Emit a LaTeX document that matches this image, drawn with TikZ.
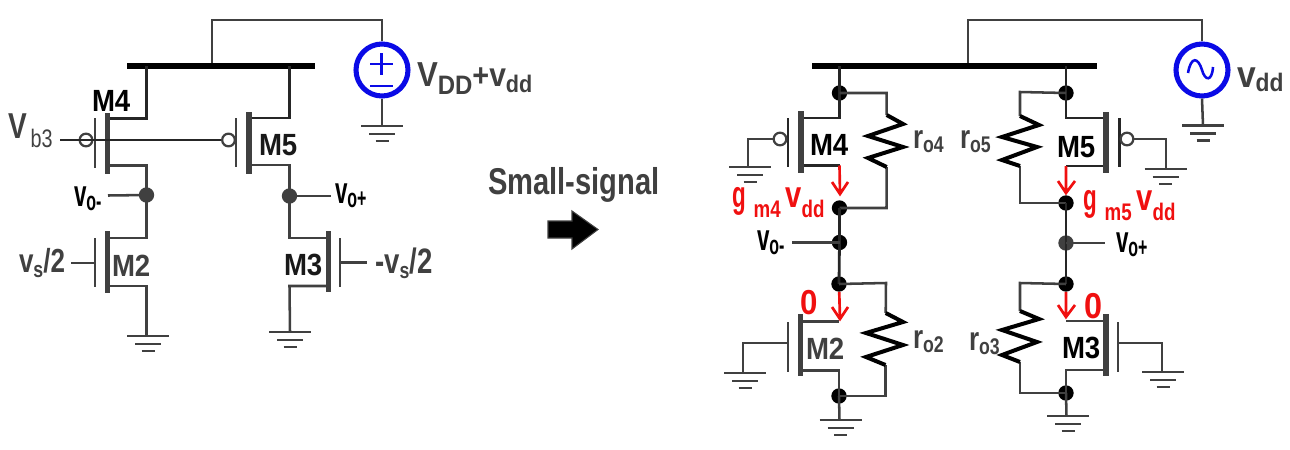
\documentclass[tikz,border=0pt]{standalone}
\usepackage{fontspec}
\setmainfont{Liberation Sans}[FakeStretch=0.9]
\newfontfamily\nar{Liberation Sans}[FakeStretch=0.78]
\newfontfamily\nnar{Liberation Sans}[FakeStretch=0.6]
\definecolor{ink}{HTML}{404040}
\definecolor{srcblue}{HTML}{0A0AE6}
\definecolor{sigred}{HTML}{F01010}
\newcommand{\fs}[1]{\fontsize{#1}{#1}\selectfont}
\newcommand{\dn}[3]{{\fs{#1}\raisebox{-#2pt}{#3}}}
\newcommand{\gndsym}[3]{%
  \coordinate (#1) at (#2,#3);
  \draw[wire] ($(#1)+(-21,0)$) -- ($(#1)+(21,0)$);
  \draw[wire] ($(#1)+(-13,8)$) -- ($(#1)+(13,8)$);
  \draw[wire] ($(#1)+(-6.5,15)$) -- ($(#1)+(6.5,15)$);}
\usetikzlibrary{calc,arrows.meta}
\tikzset{
  wire/.style={draw=ink,line width=1.9pt},
  blackwire/.style={draw=black!85,line width=2.1pt},
  bus/.style={draw=black,line width=4.6pt},
  chan/.style={draw=ink,line width=4.2pt},
  gateln/.style={draw=ink,line width=1.9pt},
  zig/.style={draw=black,line width=3pt,miter limit=10},
  dot/.style={circle,fill=black,inner sep=0pt,minimum size=11.5pt,draw=none},
  dotg/.style={circle,fill=black!75,inner sep=0pt,minimum size=11.5pt,draw=none},
  bubble/.style={circle,draw=ink,line width=1.7pt,fill=white,inner sep=0pt,minimum size=9.5pt},
  bubbleo/.style={circle,draw=ink,line width=1.7pt,inner sep=0pt,minimum size=9.5pt},
  src/.style={circle,draw=srcblue,line width=3.8pt,fill=white,inner sep=0pt,minimum size=39pt},
  redw/.style={draw=sigred,line width=2pt},
  lab/.style={anchor=base west,inner sep=0pt,outer sep=0pt,font=\bfseries},
}
\begin{document}
\begin{tikzpicture}[x=0.75pt,y=-0.75pt]
\useasboundingbox (0,0) rectangle (1290,450);
% ===== LEFT =====
\coordinate (LbusL) at (127,66); \coordinate (LbusR) at (315,66);
\coordinate (LbusT) at (212,66); \coordinate (LtopA) at (212,20); \coordinate (LtopB) at (382,20);
\node[src] (Lsrc) at (382,70) {};
\draw[wire] (LbusT) -- (LtopA) -- (LtopB) -- (Lsrc.north);
\draw[bus] (LbusL) -- (LbusR);
\draw[srcblue,line width=1.7pt] (370,64) -- (393,64) (381.5,53) -- (381.5,75) (370,86) -- (393,86);
\gndsym{Lsg}{382}{126}
\draw[wire] (Lsrc.south) -- (Lsg);
% M4 left
\coordinate (La) at (146.5,66); \coordinate (Lb) at (146.5,118.5); \coordinate (Lc) at (108,118.5);
\coordinate (Ld) at (108,165.5); \coordinate (Le) at (146.5,165.5);
\node[dotg] (Lvm) at (146.5,195) {};
\coordinate (Lf) at (146.5,238); \coordinate (Lg) at (108,238);
\draw[blackwire] (La) -- (Lb) -- (Lc);
\draw[wire] (Ld) -- (Le) -- (Lvm.center) -- (Lf) -- (Lg);
\draw[chan] (107.5,113) -- (107.5,174);
\draw[gateln] (95,118) -- (95,168);
\coordinate (LvbS) at (60,140);
\node[bubbleo] (Lb4) at (86,140) {};
\node[bubble] (Lb5) at (228.5,140) {};
\draw[blackwire,line width=1.7pt] (LvbS) -- (Lb5.west);
% M5 left
\coordinate (Lh) at (289.5,66); \coordinate (Li) at (289.5,118); \coordinate (Lj) at (249,118);
\coordinate (Lk) at (249,165); \coordinate (Ll) at (289.5,165);
\node[dotg] (Lvp) at (289.5,196) {};
\coordinate (Lm) at (289.5,238); \coordinate (Ln) at (328,238);
\draw[blackwire] (Lh) -- (Li) -- (Lj);
\draw[wire] (Lk) -- (Ll) -- (Lvp.center) -- (Lm) -- (Ln);
\draw[chan] (249,112) -- (249,174);
\draw[gateln] (236,118) -- (236,167);
% M2 left
\draw[chan] (107.5,231) -- (107.5,293);
\draw[gateln] (95,238) -- (95,287);
\coordinate (Lg2a) at (71,263); \coordinate (Lg2b) at (95,263);
\draw[wire] (Lg2a) -- (Lg2b);
\coordinate (Lo) at (108,286); \coordinate (Lp) at (146.5,286);
\gndsym{Lg2}{148}{336}
\draw[wire] (Lo) -- (Lp) -- (146.5,336);
% M3 left
\draw[chan] (328.5,231) -- (328.5,292);
\draw[gateln] (340,238) -- (340,287);
\coordinate (Lg3a) at (340,262.5); \coordinate (Lg3b) at (367,262.5);
\draw[wire] (Lg3a) -- (Lg3b);
\coordinate (Lq) at (328,286); \coordinate (Lr) at (289.5,286);
\gndsym{Lg3}{290}{332}
\draw[wire] (Lq) -- (Lr) -- (Lg3);
% vo wires
\coordinate (Lvmw) at (108,195.5); \coordinate (Lvpw) at (331,196);
\draw[wire] (Lvmw) -- (Lvm.center);
\draw[wire] (Lvp.center) -- (Lvpw);
% ===== ARROW =====
\path[fill=black,draw=ink,line width=.8pt] (548,221) -- (572,221) -- (572,211) -- (598,229.5) -- (572,249) -- (572,238) -- (548,238) -- cycle;
% ===== RIGHT =====
\coordinate (RbusL) at (812,66); \coordinate (RbusR) at (1097,66);
\coordinate (RbusT) at (968,66); \coordinate (RtopA) at (968,20); \coordinate (RtopB) at (1202,20);
\node[src] (Rsrc) at (1202,70) {};
\draw[wire] (RbusT) -- (RtopA) -- (RtopB) -- (Rsrc.north);
\draw[bus] (RbusL) -- (RbusR);
\draw[srcblue,line width=1.9pt] (1188,73) .. controls (1191,56) and (1198,57) .. (1202,70) .. controls (1205,81) and (1212,82) .. (1213,67);
\gndsym{Rsg}{1203}{125.5}
\draw[wire] (Rsrc.south) -- (Rsg);
% dots
\node[dot] (N1) at (839.5,93) {};
\node[dot] (N2) at (839.5,208) {};
\node[dot] (N3) at (839.5,242.5) {};
\node[dot] (N4) at (839,284) {};
\node[dot] (N5) at (839,396) {};
\node[dot] (P1) at (1066,93) {};
\node[dot] (P2) at (1066,203) {};
\node[dotg] (P3) at (1066,243) {};
\node[dot] (P4) at (1066,284) {};
\node[dot] (P5) at (1066,393) {};
% M4 right
\coordinate (Ra) at (839.5,66); \coordinate (Rb) at (839.5,118); \coordinate (Rc) at (802,118);
\coordinate (Rd) at (802,165.5); \coordinate (Re) at (839.5,165.5);
\draw[blackwire] (Ra) -- (N1.center) -- (Rb) -- (Rc);
\draw[blackwire] (Rd) -- (Re);
\draw[chan] (801,111) -- (801,173);
\draw[gateln,line width=2pt,draw=black!85] (788,118) -- (788,167);
\node[bubbleo] (Rb4) at (780,139) {};
\coordinate (Rg4a) at (748,139);
\gndsym{Rg4}{750}{167}
\draw[wire] (Rb4.west) -- (Rg4a) -- (748,167);
\coordinate (Rr4a) at (886.5,93); \coordinate (Rr4b) at (886.7,115); \coordinate (Rr4c) at (886.7,167); \coordinate (Rr4d) at (886.5,208);
\draw[wire] (N1.center) -- (Rr4a) -- (Rr4b);
\draw[wire] (Rr4c) -- (Rr4d) -- (N2.center);
\draw[zig] (Rr4b) -- (903,124) -- (868,136) -- (903,147) -- (868,158) -- (Rr4c);
% mid
\draw[blackwire] (N2.center) -- (N3.center) -- (N4.center);
\coordinate (Rvm) at (792,242.5);
\draw[wire] (Rvm) -- (N3.center);
% M2 right
\coordinate (Rf) at (839,321.5); \coordinate (Rh) at (802,321.5);
\coordinate (Ri) at (802,370.5); \coordinate (Rj) at (839,370.5);
\draw[wire] (Rh) -- (Rf);
\draw[wire] (Ri) -- (Rj) -- (N5.center);
\draw[chan] (800.5,314) -- (800.5,376);
\draw[gateln] (788,322) -- (788,372);
\coordinate (Rg2a) at (788,343); \coordinate (Rg2b) at (743,343);
\gndsym{Rg2}{745}{373}
\draw[wire] (Rg2a) -- (Rg2b) -- (743,373);
\coordinate (Rr2a) at (886,283); \coordinate (Rr2b) at (885.7,313); \coordinate (Rr2c) at (885.5,365); \coordinate (Rr2d) at (885.5,396);
\draw[wire] (N4.center) -- (Rr2a) -- (Rr2b);
\draw[wire] (Rr2c) -- (Rr2d) -- (N5.center);
\draw[zig] (Rr2b) -- (903,322) -- (866,333) -- (903,345) -- (866,357) -- (Rr2c);
\gndsym{Rg2b2}{840.5}{420}
\draw[wire] (N5.center) -- (839.5,420);
% M5 right
\coordinate (Pa) at (1066,66); \coordinate (Pb) at (1066,118); \coordinate (Pc) at (1105,118);
\coordinate (Pd) at (1105,166); \coordinate (Pe) at (1066,166);
\draw[blackwire] (Pa) -- (P1.center) -- (Pb) -- (Pc);
\draw[blackwire] (Pd) -- (Pe);
\draw[chan] (1106,112) -- (1106,173);
\draw[gateln,line width=2pt,draw=black!85] (1119.5,118) -- (1119.5,167);
\node[bubbleo] (Pb5) at (1127,139) {};
\coordinate (Pg5a) at (1166,139);
\gndsym{Pg5}{1165.5}{169}
\draw[wire] (Pb5.east) -- (Pg5a) -- (1166,169);
\coordinate (Pr5a) at (1020,92); \coordinate (Pr5b) at (1020,116); \coordinate (Pr5c) at (1020,166); \coordinate (Pr5d) at (1020,203);
\draw[wire] (P1.center) -- (Pr5a) -- (Pr5b);
\draw[wire] (Pr5c) -- (Pr5d) -- (P2.center);
\draw[zig] (Pr5b) -- (1039,125) -- (1002,137) -- (1037,147) -- (1002,160) -- (Pr5c);
\draw[blackwire] (P2.center) -- (P3.center) -- (P4.center);
\coordinate (Pvp) at (1105,243);
\draw[wire] (P3.center) -- (Pvp);
% M3 right
\coordinate (Pf) at (1066,321); \coordinate (Ph) at (1105,321);
\coordinate (Pi) at (1105,370); \coordinate (Pj) at (1066,370);
\draw[wire] (Pf) -- (Ph);
\draw[wire] (Pi) -- (Pj) -- (P5.center);
\draw[chan] (1106,314) -- (1106,376);
\draw[gateln] (1118,322) -- (1118,372);
\coordinate (Pg3a) at (1118,343); \coordinate (Pg3b) at (1162,343);
\gndsym{Pg3}{1163}{372}
\draw[wire] (Pg3a) -- (Pg3b) -- (1162,372);
\coordinate (Pr3a) at (1020,283); \coordinate (Pr3b) at (1020,311); \coordinate (Pr3c) at (1020,362); \coordinate (Pr3d) at (1020,393);
\draw[wire] (P4.center) -- (Pr3a) -- (Pr3b);
\draw[wire] (Pr3c) -- (Pr3d) -- (P5.center);
\draw[zig] (Pr3b) -- (1039,319) -- (1002,330) -- (1037,342) -- (1002,355) -- (Pr3c);
\gndsym{Pg3b2}{1068}{416}
\draw[wire] (P5.center) -- (1066.5,416);
% red arrows
\coordinate (Ar1) at (840,194); \coordinate (Ar2) at (840,319); \coordinate (Ar3) at (1066,193); \coordinate (Ar4) at (1066,317);
\draw[redw] (Re) -- (Ar1) (832,182) -- (Ar1) -- (848,182);
\draw[redw] (N4) -- (Ar2) (832,307) -- (Ar2) -- (848,307);
\draw[redw] (Pe) -- (Ar3) (1058,181) -- (Ar3) -- (1075,181);
\draw[redw] (P4) -- (Ar4) (1058,305) -- (Ar4) -- (1075,305);
% ===== TEXT =====
\node[lab,text=black,font=\bfseries\fs{23}] (tM4) at (92,111) {M4};
\node[lab,text=black!90,font=\bfseries\fs{23}] (tM5) at (259,155) {M5};
\node[lab,text=ink,font=\bfseries\fs{23}] (tM2) at (112,276) {M2};
\node[lab,text=black!90,font=\bfseries\fs{23}] (tM3) at (284,275) {M3};
\node[lab,text=ink,font=\nar\fs{27}] (tVb) at (8,138) {\textbf{V}\hspace{3pt}\dn{19}{7}{b3}};
\node[lab,text=black,font=\bfseries\nnar\fs{28}] (tVm) at (74,206) {v\dn{20}{3}{o-}};
\node[lab,text=black,font=\bfseries\nnar\fs{28}] (tVp) at (335,203) {v\dn{20}{3}{o+}};
\node[lab,text=ink,font=\bfseries\nar\fs{25}] (tvs) at (19,272) {v\dn{17}{4}{s}/2};
\node[lab,text=ink,font=\bfseries\nar\fs{26.5}] (tvsm) at (375,273) {-v\dn{17}{4}{s}/2};
\node[lab,text=ink,font=\bfseries\fs{26}] (tVdd) at (417,86) {V\dn{20}{6.5}{DD}\dn{24}{0}{+}\dn{25}{0}{v}\dn{18}{4.5}{dd}};
\node[lab,text=ink,font=\bfseries\nar\fs{28}] (tSS) at (488,194) {Small-signal};
\node[lab,text=ink,font=\bfseries\fs{28}] (tvdd) at (1237,87) {v\dn{19}{3}{dd}};
\node[lab,text=black,font=\bfseries\fs{23}] (tM4r) at (810,155) {M4};
\node[lab,text=ink,font=\bfseries\fs{23}] (tM2r) at (806,359) {M2};
\node[lab,text=black,font=\bfseries\fs{23}] (tM5r) at (1057,157) {M5};
\node[lab,text=black,font=\bfseries\fs{23}] (tM3r) at (1062,358) {M3};
\node[lab,text=ink,font=\bfseries\nar\fs{25}] (tro4) at (913,148) {r\dn{17}{3}{o4}};
\node[lab,text=ink,font=\bfseries\nar\fs{25}] (tro2) at (913,348) {r\dn{17}{3}{o2}};
\node[lab,text=ink,font=\bfseries\nar\fs{25}] (tro5) at (960,148) {r\dn{17}{3}{o5}};
\node[lab,text=ink,font=\bfseries\nar\fs{25}] (tro3) at (969,350) {r\dn{17}{3}{o3}};
\node[lab,text=black,font=\bfseries\nnar\fs{28}] (tVmr) at (757,250) {v\dn{20}{3}{o-}};
\node[lab,text=black,font=\bfseries\nnar\fs{28}] (tVpr) at (1116,252) {v\dn{20}{3}{o+}};
\node[lab,text=sigred,font=\bfseries\fs{26}] (t0a) at (800,314) {0};
\node[lab,text=sigred,font=\bfseries\fs{27}] (t0b) at (1084,318) {0};
\node[lab,text=sigred,font=\bfseries\nar\fs{18}] (tg4) at (732,207) {{\nnar\fs{28}g}\hspace{6pt}\dn{18}{7.5}{m4}\hspace{3.5pt}{\fs{28}v}\dn{18}{7.5}{dd}};
\node[lab,text=sigred,font=\bfseries\nar\fs{18}] (tg5) at (1083,210) {{\nnar\fs{28}g}\hspace{6pt}\dn{18}{7.5}{m5}\hspace{3.5pt}{\fs{28}v}\dn{18}{7.5}{dd}};
\end{tikzpicture}
\end{document}
